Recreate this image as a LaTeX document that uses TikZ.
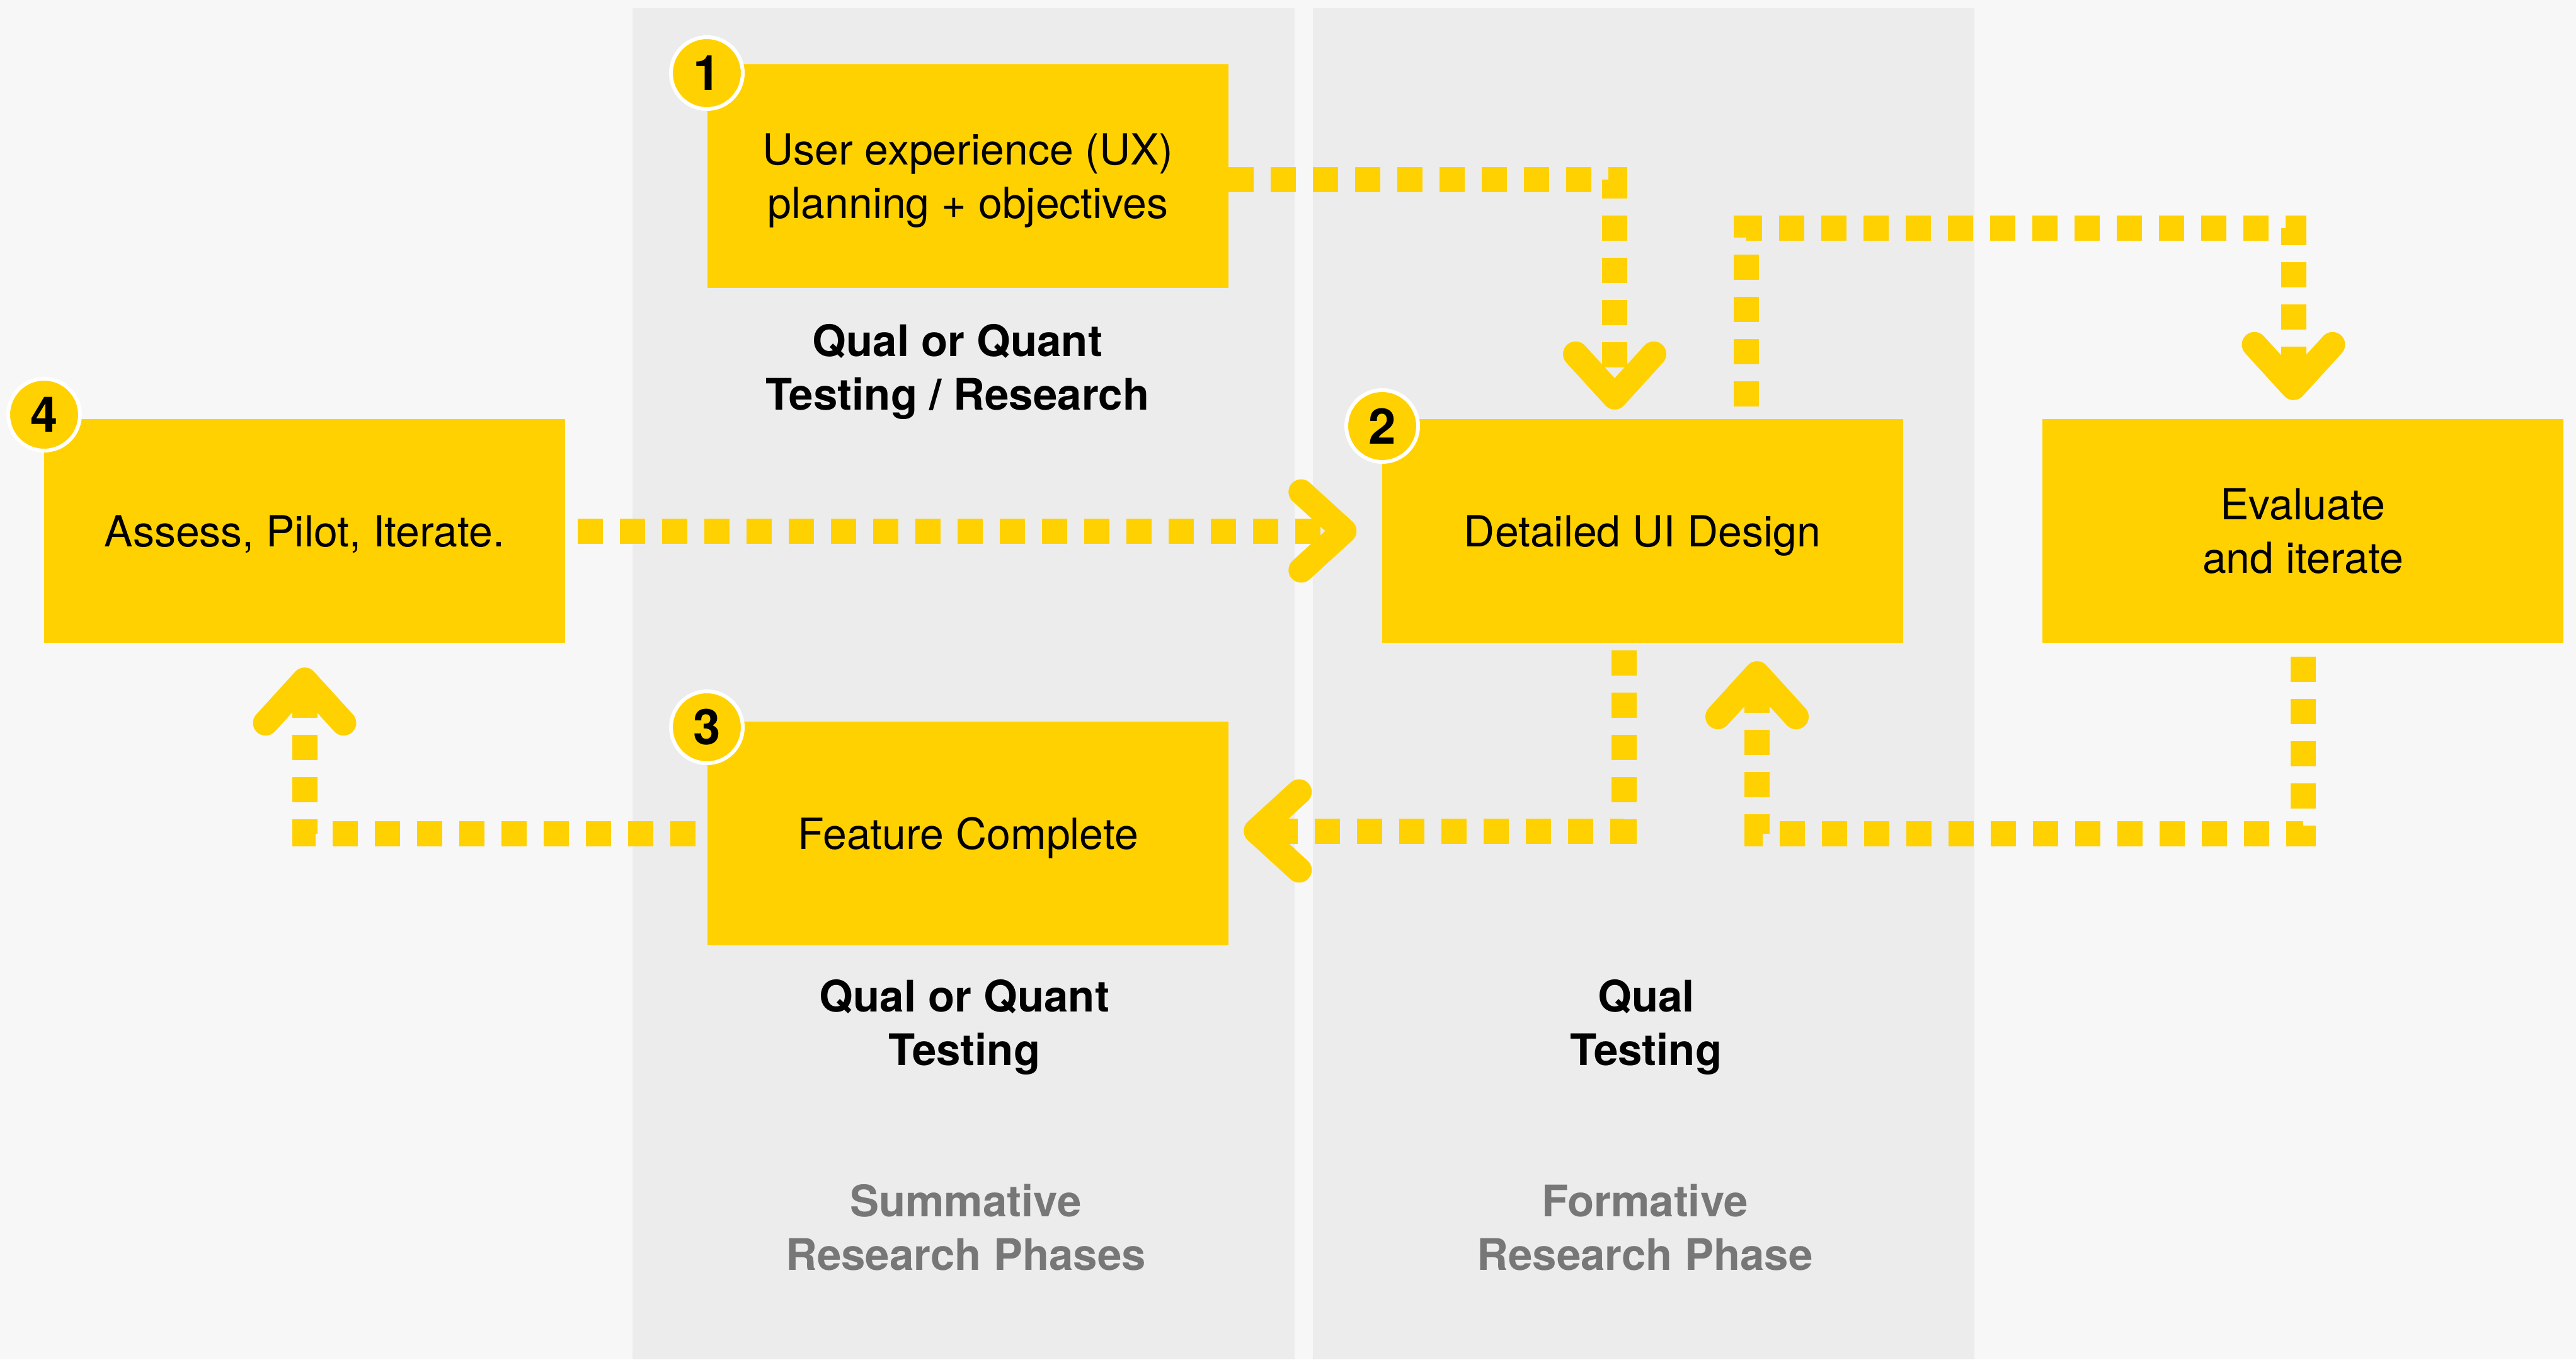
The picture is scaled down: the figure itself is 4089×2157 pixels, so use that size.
\documentclass[tikz,border=0pt]{standalone}
\usepackage{fontspec}
\setmainfont{TeX Gyre Heros}
\usetikzlibrary{arrows.meta,calc}
\definecolor{bgc}{HTML}{F7F7F7}
\definecolor{panelc}{HTML}{ECECEC}
\definecolor{ylw}{HTML}{FFD100}
\definecolor{phasec}{HTML}{777777}
\tikzset{
 chev/.tip={Straight Barb[length=68pt,width=124pt,round]},
 box/.style={fill=ylw, minimum width=827pt, minimum height=355pt, inner sep=0pt, align=center, text depth=0pt, font=\fontsize{68}{85}\selectfont},
 badge/.style={circle, fill=ylw, draw=white, line width=6pt, minimum size=114pt, inner sep=0pt, font=\bfseries\fontsize{78}{78}\selectfont},
 lab/.style={align=center, font=\bfseries\fontsize{69}{85}\selectfont},
 phaselab/.style={lab, text=phasec},
 conn/.style={draw=ylw, line width=40pt, dash pattern=on 40pt off 27pt, -{chev}}
}
\begin{document}
\begin{tikzpicture}[x=1pt,y=-1pt]
\useasboundingbox (0,0) rectangle (4089,2157);
\fill[bgc] (0,0) rectangle (4089,2157);
\fill[panelc] (1004,13) rectangle (2055,2157);
\fill[panelc] (2084,13) rectangle (3134,2157);

\node[box] (b1) at (1536.5,279.5) {User experience (UX)\\planning + objectives};
\node[box] (b2) at (2607,842.5) {Detailed UI Design};
\node[box] (b4) at (483.5,842.5) {Assess, Pilot, Iterate.};
\node[box] (bE) at (3655.5,842.5) {Evaluate\\and iterate};
\node[box] (b3) at (1536.5,1322.5) {Feature Complete};

\node[badge] (n1) at (1122,116) {1};
\node[badge] (n2) at (2194,676) {2};
\node[badge] (n3) at (1122,1154) {3};
\node[badge] (n4) at (70,658) {4};

\node[lab] (l1) at (1520,590) {Qual or Quant\\Testing / Research};
\node[lab] (l3) at (1531,1630) {Qual or Quant\\Testing};
\node[lab] (l2) at (2613,1630) {Qual\\Testing};
\node[phaselab] (p1) at (1533,1948) {Summative\\Research Phases};
\node[phaselab] (p2) at (2611,1948) {Formative\\Research Phase};

\draw[conn, shorten >=15pt] ($(b1.east)+(0,5)$) -| ($(b2.north)+(-44,0)$);
\draw[conn, shorten <=20pt, shorten >=30pt] ($(b2.north)+(165,0)$) -- ++(0,-303) -| ($(bE.north)+(-15,0)$);
\draw[conn, shorten <=20pt, shorten >=40pt] (b4.east) -- (b2.west);
\draw[conn, shorten <=12pt, shorten >=24pt] ($(b2.south)+(-29,0)$) |- ($(b3.east)+(0,-4)$);
\draw[conn, shorten <=22pt, shorten >=29pt] (bE.south) -- ++(0,303) -| ($(b2.south)+(182,0)$);
\draw[conn, shorten <=19pt, shorten >=39pt] (b3.west) -| (b4.south);
\end{tikzpicture}
\end{document}
